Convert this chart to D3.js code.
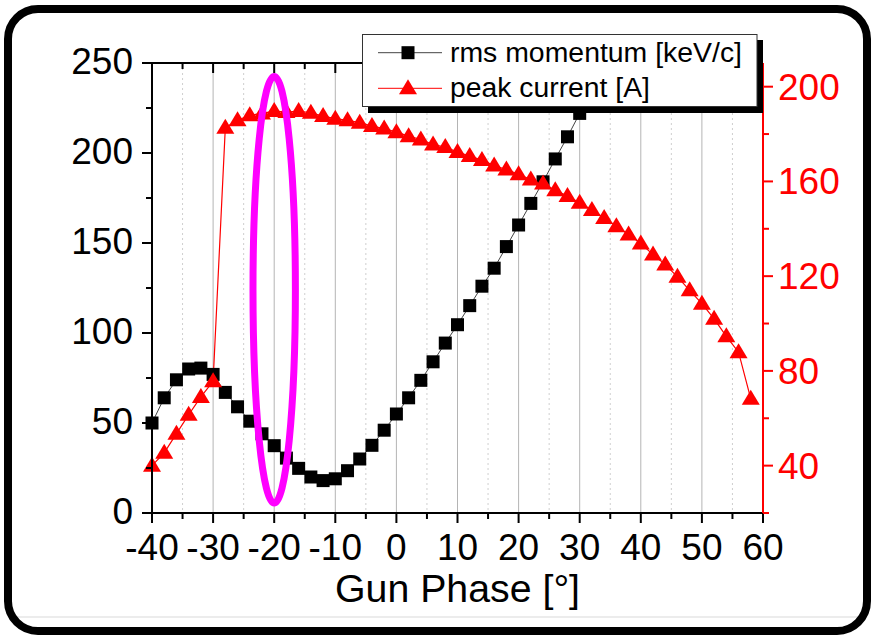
<!DOCTYPE html>
<html><head><meta charset="utf-8">
<script src="https://d3js.org/d3.v7.min.js"></script>
<style>html,body{margin:0;padding:0;background:#fff;}svg{display:block;font-family:"Liberation Sans",Arial,sans-serif;}</style>
</head><body>
<script>
// ---- data ----
const phaseRms = [-40,-38,-36,-34,-32,-30,-28,-26,-24,-22,-20,-18,-16,-14,-12,-10,-8,-6,-4,-2,0,2,4,6,8,10,12,14,16,18,20,22,24,26,28,30];
const rmsMomentum = [50,64,74,80,80.5,77,67,59,51,44,37.4,30.5,24.8,20,18,19,23.5,30,37.6,46,55,64,73.7,84,94.4,104.6,115.2,126,136,148,160,172,184,196.7,209,222];
const phaseCur = [-40,-38,-36,-34,-32,-30,-28,-26,-24,-22,-20,-18,-16,-14,-12,-10,-8,-6,-4,-2,0,2,4,6,8,10,12,14,16,18,20,22,24,26,28,30,32,34,36,38,40,42,44,46,48,50,52,54,56,58];
const peakCurrent = [40,45.4,53.5,61.5,69,75.6,182.7,185.8,187.9,188.7,189.7,189.3,189.7,189,187.6,186.5,185.8,184.8,183.4,182.3,180.8,179.1,177.7,175.6,174.5,172.4,170.7,169,166.7,165,163,160.8,159.1,156.3,153.8,151,147.9,144.6,141.1,137.6,133.8,129.1,124.9,119.7,114,108.4,102,94.6,87.9,68.2];
const xTicks = [-40,-30,-20,-10,0,10,20,30,40,50,60];
const yLeftTicks = [0,50,100,150,200,250];
const yRightTicks = [40,80,120,160,200];
const legendLabels = ["rms momentum [keV/c]","peak current [A]"];
const xLabel = "Gun Phase [°]";
const ellipseCenter = [-20,124]; // phase, left-axis units
const ellipseRadii = [3.47,118.5];

// ---- layout ----
const W=872,H=635;
const L=152,R=763,T=63,B=513;
const svg=d3.select("body").append("svg").attr("width",W).attr("height",H);
svg.append("rect").attr("width",W).attr("height",H).attr("fill","#fff");

const x=d3.scaleLinear().domain([-40,60]).range([L,R]);
const yL=d3.scaleLinear().domain([0,250]).range([B,T]);
const yR=d3.scaleLinear().domain([20,210]).range([B,T]);

// faint line near bottom
svg.append("line").attr("x1",12).attr("x2",860).attr("y1",617).attr("y2",617).attr("stroke","#ececec").attr("stroke-width",2);

// grid
const minorX=d3.range(-35,60,10);
svg.append("g").selectAll("line").data(minorX).join("line")
  .attr("x1",d=>x(d)).attr("x2",d=>x(d)).attr("y1",T).attr("y2",B)
  .attr("stroke","#cfcfcf").attr("stroke-width",1).attr("stroke-dasharray","2,3");
svg.append("g").selectAll("line").data(xTicks.filter(d=>d>-40&&d<60)).join("line")
  .attr("x1",d=>x(d)).attr("x2",d=>x(d)).attr("y1",T).attr("y2",B)
  .attr("stroke","#b4b4b4").attr("stroke-width",1);

// series lines
svg.append("path").datum(phaseRms.map((p,i)=>[p,rmsMomentum[i]]))
  .attr("d",d3.line().x(d=>x(d[0])).y(d=>yL(d[1])))
  .attr("fill","none").attr("stroke","#444").attr("stroke-width",1);
svg.append("path").datum(phaseCur.map((p,i)=>[p,peakCurrent[i]]))
  .attr("d",d3.line().x(d=>x(d[0])).y(d=>yR(d[1])))
  .attr("fill","none").attr("stroke","#ff0000").attr("stroke-width",1.2);

// markers
const sq=13;
svg.append("g").selectAll("rect").data(phaseRms.map((p,i)=>[p,rmsMomentum[i]])).join("rect")
  .attr("x",d=>x(d[0])-sq/2).attr("y",d=>yL(d[1])-sq/2).attr("width",sq).attr("height",sq).attr("fill","#000");
const tri="M0,-9L9,6L-9,6Z";
svg.append("g").selectAll("path").data(phaseCur.map((p,i)=>[p,peakCurrent[i]])).join("path")
  .attr("d",tri).attr("transform",d=>`translate(${x(d[0])},${yR(d[1])})`).attr("fill","#ff0000");

// ellipse annotation
svg.append("ellipse")
  .attr("cx",x(ellipseCenter[0])).attr("cy",yL(ellipseCenter[1]))
  .attr("rx",x(ellipseCenter[0]+ellipseRadii[0])-x(ellipseCenter[0]))
  .attr("ry",yL(0)-yL(ellipseRadii[1]))
  .attr("fill","none").attr("stroke","#ff00ff").attr("stroke-width",7);

// axes
const fs=37;
// bottom
const gB=svg.append("g").attr("transform",`translate(0,${B})`);
gB.append("line").attr("x1",L).attr("x2",R).attr("stroke","#000").attr("stroke-width",2);
gB.selectAll("line.maj").data(xTicks).join("line").attr("class","maj")
  .attr("x1",d=>x(d)).attr("x2",d=>x(d)).attr("y1",0).attr("y2",10).attr("stroke","#000").attr("stroke-width",2);
gB.selectAll("line.min").data(minorX).join("line").attr("class","min")
  .attr("x1",d=>x(d)).attr("x2",d=>x(d)).attr("y1",0).attr("y2",6).attr("stroke","#000").attr("stroke-width",2);
gB.selectAll("text").data(xTicks).join("text")
  .attr("x",d=>x(d)).attr("y",47).attr("text-anchor","middle").attr("font-size",fs).attr("fill","#000").text(d=>d);
// top
const gT=svg.append("g").attr("transform",`translate(0,${T})`);
gT.append("line").attr("x1",L).attr("x2",R).attr("stroke","#000").attr("stroke-width",2);
gT.selectAll("line.maj").data(xTicks).join("line").attr("class","maj")
  .attr("x1",d=>x(d)).attr("x2",d=>x(d)).attr("y1",0).attr("y2",10).attr("stroke","#000").attr("stroke-width",2);
gT.selectAll("line.min").data(minorX).join("line").attr("class","min")
  .attr("x1",d=>x(d)).attr("x2",d=>x(d)).attr("y1",0).attr("y2",6).attr("stroke","#000").attr("stroke-width",2);
// left
const gL=svg.append("g").attr("transform",`translate(${L},0)`);
gL.append("line").attr("y1",T).attr("y2",B).attr("stroke","#000").attr("stroke-width",2);
gL.selectAll("line.maj").data(yLeftTicks).join("line").attr("class","maj")
  .attr("x1",-10).attr("x2",0).attr("y1",d=>yL(d)).attr("y2",d=>yL(d)).attr("stroke","#000").attr("stroke-width",2);
gL.selectAll("line.min").data(d3.range(25,250,50)).join("line").attr("class","min")
  .attr("x1",-6).attr("x2",0).attr("y1",d=>yL(d)).attr("y2",d=>yL(d)).attr("stroke","#000").attr("stroke-width",2);
gL.selectAll("text").data(yLeftTicks).join("text")
  .attr("x",-19).attr("y",d=>yL(d)+11).attr("text-anchor","end").attr("font-size",fs).attr("fill","#000").text(d=>d);
// right
const gR=svg.append("g").attr("transform",`translate(${R},0)`);
gR.append("line").attr("y1",T).attr("y2",B).attr("stroke","#ff0000").attr("stroke-width",2);
gR.selectAll("line.maj").data(yRightTicks).join("line").attr("class","maj")
  .attr("x1",0).attr("x2",10).attr("y1",d=>yR(d)).attr("y2",d=>yR(d)).attr("stroke","#ff0000").attr("stroke-width",2);
gR.selectAll("line.min").data(d3.range(20,210,40)).join("line").attr("class","min")
  .attr("x1",0).attr("x2",6).attr("y1",d=>yR(d)).attr("y2",d=>yR(d)).attr("stroke","#ff0000").attr("stroke-width",2);
gR.selectAll("text").data(yRightTicks).join("text")
  .attr("x",15).attr("y",d=>yR(d)+13).attr("text-anchor","start").attr("font-size",fs).attr("fill","#ff0000").text(d=>d);

// x label
svg.append("text").attr("x",(L+R)/2).attr("y",602).attr("text-anchor","middle").attr("font-size",38)
  .attr("textLength",245).attr("lengthAdjust","spacingAndGlyphs").attr("fill","#000").text(xLabel);

// legend
const lg=svg.append("g");
lg.append("rect").attr("x",368).attr("y",40).attr("width",395).attr("height",73).attr("fill","#000");
lg.append("rect").attr("x",362.5).attr("y",34.5).attr("width",394.5).attr("height",72).attr("fill","#fff").attr("stroke","#333").attr("stroke-width",1);
const rows=[{y:52.7,color:"#000",mark:"sq",len:292},{y:88.3,color:"#ff0000",mark:"tri",len:200}];
rows.forEach((r,i)=>{
  lg.append("line").attr("x1",378).attr("x2",442).attr("y1",r.y).attr("y2",r.y).attr("stroke",r.color==="#000"?"#444":r.color).attr("stroke-width",1);
  if(r.mark==="sq") lg.append("rect").attr("x",408-6.5).attr("y",r.y-6.5).attr("width",13).attr("height",13).attr("fill","#000");
  else lg.append("path").attr("d",tri).attr("transform",`translate(408,${r.y})`).attr("fill","#ff0000");
  lg.append("text").attr("x",450).attr("y",r.y+9).attr("font-size",27)
    .attr("textLength",r.len).attr("lengthAdjust","spacingAndGlyphs").attr("fill","#000").text(legendLabels[i]);
});

// frame
svg.append("rect").attr("x",8).attr("y",9).attr("width",859).attr("height",622).attr("rx",30).attr("ry",30)
  .attr("fill","none").attr("stroke","#000").attr("stroke-width",8);
</script>
</body></html>
